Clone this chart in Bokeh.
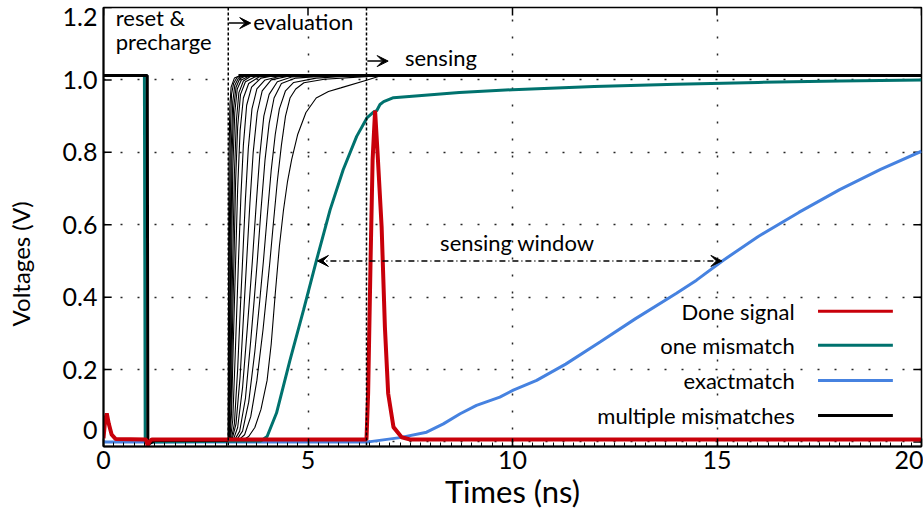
from bokeh.plotting import figure
from bokeh.models import Span, Label, Arrow, VeeHead, FixedTicker
from bokeh.embed import file_html
from bokeh.resources import INLINE

FONT = "Lato"

# ---------------- data ----------------
x_ticks = [0, 5, 10, 15, 20]
y_ticks = [0, 0.2, 0.4, 0.6, 0.8, 1.0, 1.2]
y_tick_labels = ["0", "0.2", "0.4", "0.6", "0.8", "1.0", "1.2"]

# Done signal (red)
done_t = [0, 0.04, 0.08, 0.13, 0.2, 0.3, 1.04, 1.08, 1.12, 1.18, 6.43, 6.47, 6.53, 6.58,
          6.64, 6.7, 6.8, 6.88, 6.96, 7.09, 7.29, 7.5, 20]
done_v = [0.01, 0.06, 0.079, 0.05, 0.02, 0.008, 0.007, -0.01, 0.0, 0.007, 0.007, 0.134, 0.503,
          0.78, 0.915, 0.8, 0.595, 0.318, 0.134, 0.041, 0.013, 0.007, 0.007]

# one mismatch (teal)
one_t = [0, 1.0, 1.02, 1.1, 3.85, 4.0, 4.23, 4.56, 4.89, 5.21, 5.54, 5.86, 6.19, 6.44, 6.6,
         6.68, 6.76, 6.85, 7.09, 8.7, 10, 12, 14, 16, 18, 20]
one_v = [1.012, 1.012, 0.0, 0.0, 0.003, 0.015, 0.08, 0.226, 0.364, 0.503, 0.641, 0.752, 0.844,
         0.895, 0.911, 0.915, 0.932, 0.94, 0.951, 0.965, 0.973, 0.982, 0.988, 0.993, 0.997, 1.0]

# exactmatch (blue)
exact_t = [0, 6.45, 6.52, 7.25, 7.9, 8.31, 8.72, 9.12, 9.69, 10.02, 10.59, 11.3, 12.14, 13.0,
           14.0, 14.5, 15.13, 16.0, 17.0, 18.0, 19.0, 20.0]
exact_v = [0.0, 0.0, 0.001, 0.012, 0.027, 0.05, 0.078, 0.101, 0.124, 0.143, 0.17, 0.215, 0.276,
           0.34, 0.41, 0.447, 0.5, 0.567, 0.634, 0.697, 0.753, 0.803]

# multiple mismatches (black): common reset part, family of rising curves, settled level
multi_pre_t = [0, 1.07, 1.085, 1.12, 1.25, 3.05]
multi_pre_v = [1.012, 1.012, -0.012, -0.005, 0.004, 0.004]
multi_top_t = [3.3, 20]
multi_top_v = [1.012, 1.012]
multi_t = [
    [3.05, 3.4, 3.55, 3.7, 3.85, 4.0, 4.1, 4.2, 4.3, 4.4, 4.5, 4.6, 4.75, 4.95, 5.2, 5.5, 5.8, 6.45, 6.8],
    [3.05, 3.3, 3.45, 3.6, 3.75, 3.9, 4.0, 4.07, 4.15, 4.25, 4.35, 4.45, 4.56, 4.7, 4.9, 5.4, 6.4, 6.8],
    [3.05, 3.25, 3.4, 3.55, 3.7, 3.82, 3.91, 4.0, 4.1, 4.2, 4.3, 4.45, 4.65, 5.2, 6.2],
    [3.05, 3.2, 3.33, 3.47, 3.6, 3.69, 3.76, 3.85, 3.95, 4.05, 4.17, 4.35, 4.7, 5.6],
    [3.05, 3.17, 3.28, 3.4, 3.52, 3.64, 3.73, 3.82, 3.92, 4.05, 4.25, 4.6, 5.2],
    [3.05, 3.14, 3.24, 3.34, 3.43, 3.5, 3.58, 3.66, 3.76, 3.88, 4.1, 4.6],
    [3.05, 3.12, 3.2, 3.28, 3.35, 3.4, 3.47, 3.54, 3.63, 3.75, 3.95, 4.4],
    [3.05, 3.1, 3.16, 3.22, 3.27, 3.3, 3.36, 3.42, 3.5, 3.62, 3.85, 4.2],
    [3.05, 3.09, 3.13, 3.18, 3.23, 3.28, 3.34, 3.42, 3.55, 3.8, 4.1],
    [3.05, 3.08, 3.12, 3.16, 3.19, 3.23, 3.28, 3.35, 3.47, 3.7, 4.0],
    [3.05, 3.07, 3.11, 3.14, 3.16, 3.2, 3.25, 3.31, 3.42, 3.6, 3.9],
    [3.05, 3.065, 3.1, 3.13, 3.16, 3.21, 3.27, 3.37, 3.55, 3.8],
    [3.05, 3.06, 3.09, 3.11, 3.14, 3.18, 3.24, 3.33, 3.5],
    [3.05, 3.055, 3.08, 3.095, 3.12, 3.16, 3.21, 3.3, 3.45],
    [3.05, 3.06, 3.07, 3.08, 3.1, 3.13, 3.18, 3.27, 3.4],
    [3.05, 3.055, 3.06, 3.07, 3.09, 3.12, 3.2, 3.35],
]
multi_v = [
    [0.004, 0.005, 0.015, 0.04, 0.09, 0.17, 0.27, 0.41, 0.54, 0.64, 0.72, 0.78, 0.85, 0.91, 0.95, 0.968, 0.978, 1.0, 1.012],
    [0.004, 0.005, 0.02, 0.07, 0.17, 0.31, 0.42, 0.5, 0.6, 0.72, 0.82, 0.9, 0.95, 0.975, 0.992, 1.002, 1.009, 1.012],
    [0.004, 0.005, 0.03, 0.11, 0.25, 0.39, 0.5, 0.62, 0.75, 0.85, 0.92, 0.97, 0.993, 1.005, 1.012],
    [0.004, 0.005, 0.03, 0.12, 0.28, 0.4, 0.5, 0.64, 0.78, 0.88, 0.95, 0.99, 1.005, 1.012],
    [0.004, 0.005, 0.04, 0.15, 0.32, 0.5, 0.65, 0.79, 0.9, 0.96, 0.995, 1.008, 1.012],
    [0.004, 0.005, 0.05, 0.18, 0.36, 0.5, 0.66, 0.8, 0.91, 0.97, 1.0, 1.012],
    [0.004, 0.005, 0.05, 0.2, 0.38, 0.5, 0.67, 0.81, 0.92, 0.975, 1.0, 1.012],
    [0.004, 0.005, 0.06, 0.24, 0.4, 0.5, 0.68, 0.82, 0.93, 0.98, 1.005, 1.012],
    [0.004, 0.005, 0.08, 0.3, 0.5, 0.7, 0.86, 0.95, 0.99, 1.008, 1.012],
    [0.004, 0.005, 0.1, 0.35, 0.5, 0.72, 0.87, 0.96, 0.995, 1.008, 1.012],
    [0.004, 0.005, 0.15, 0.38, 0.5, 0.74, 0.89, 0.965, 0.997, 1.01, 1.012],
    [0.004, 0.005, 0.2, 0.5, 0.75, 0.91, 0.975, 1.0, 1.01, 1.012],
    [0.004, 0.005, 0.25, 0.5, 0.78, 0.92, 0.98, 1.003, 1.012],
    [0.004, 0.005, 0.3, 0.5, 0.8, 0.94, 0.985, 1.005, 1.012],
    [0.004, 0.2, 0.4, 0.6, 0.85, 0.96, 0.99, 1.008, 1.012],
    [0.004, 0.3, 0.5, 0.8, 0.93, 0.98, 1.005, 1.012],
]

legend_labels = ["Done signal", "one mismatch", "exactmatch", "multiple mismatches"]
legend_colors = ["#c8000a", "#00726e", "#4682e0", "#000000"]

# ---------------- figure ----------------
p = figure(width=923, height=518, x_range=(0, 20), y_range=(-0.0125, 1.2),
           output_backend="svg", toolbar_location=None,
           min_border_left=103, min_border_right=2, min_border_top=7, min_border_bottom=72)
p.background_fill_color = "white"
p.border_fill_color = "white"
p.outline_line_color = "black"
p.outline_line_width = 1.5

TICK_FS = "25px"

# y tick labels: the two end labels sit slightly inside the frame, as in the reference
y_label_pos = [0.032, 0.2, 0.4, 0.6, 0.8, 1.0, 1.173]

p.xaxis.ticker = FixedTicker(ticks=x_ticks, minor_ticks=[i * 0.25 for i in range(81)])
p.yaxis.ticker = FixedTicker(ticks=y_label_pos)
p.yaxis.major_label_overrides = {t: s for t, s in zip(y_label_pos, y_tick_labels)}
for ax in (p.xaxis[0], p.yaxis[0]):
    ax.axis_line_width = 2
    ax.axis_line_color = "black"
    ax.major_tick_in = 8
    ax.major_tick_out = 0
    ax.major_tick_line_width = 1.5
    ax.minor_tick_in = 4
    ax.minor_tick_out = 0
    ax.major_label_text_font = FONT
    ax.major_label_text_font_size = TICK_FS
    ax.major_label_text_color = "black"
    ax.axis_label_text_font = FONT
    ax.axis_label_text_font_style = "normal"
    ax.axis_label_text_color = "black"
p.yaxis.minor_tick_line_color = None
p.yaxis.major_tick_line_color = None
p.xaxis.axis_label = "Times (ns)"
p.xaxis.axis_label_text_font_size = "31px"
p.xaxis.major_label_standoff = 4
p.xaxis.axis_label_standoff = 0
p.yaxis.axis_label = "Voltages (V)" + "\u00a0" * 12
p.yaxis.axis_label_text_font_size = "24px"
p.yaxis.major_label_standoff = 6
p.yaxis.axis_label_standoff = 25

# tick marks on left (at the true values), top and right edges
p.segment(x0=[0] * len(y_ticks), x1=[0.2] * len(y_ticks), y0=y_ticks, y1=y_ticks,
          line_color="black", line_width=1.5)
p.segment(x0=x_ticks, x1=x_ticks, y0=[1.2] * len(x_ticks), y1=[1.178] * len(x_ticks),
          line_color="black", line_width=1.5)
p.segment(x0=[20] * len(y_ticks), x1=[19.8] * len(y_ticks), y0=y_ticks, y1=y_ticks,
          line_color="black", line_width=1.5)

# grid
for g in (p.xgrid[0], p.ygrid[0]):
    g.grid_line_color = "black"
    g.grid_line_dash = "2 15"
    g.grid_line_width = 1.5
    g.grid_line_alpha = 0.85
p.ygrid.ticker = FixedTicker(ticks=y_ticks)
p.xgrid.ticker = FixedTicker(ticks=x_ticks)

# phase separators
for loc in (3.05, 6.43):
    p.add_layout(Span(location=loc, dimension="height", line_color="black",
                      line_dash="3 2", line_width=1.5))

# curves
p.line(exact_t, exact_v, line_color=legend_colors[2], line_width=3)
p.line(one_t, one_v, line_color=legend_colors[1], line_width=3)
p.line(multi_pre_t, multi_pre_v, line_color="black", line_width=3)
p.multi_line(multi_t, multi_v, line_color="black", line_width=1.1)
p.line(multi_top_t, multi_top_v, line_color="black", line_width=3)
p.line(done_t, done_v, line_color=legend_colors[0], line_width=4)

# legend (text left of the sample line)
legend_y = [0.361, 0.267, 0.170, 0.073]
for lab, col, yy in zip(legend_labels, legend_colors, legend_y):
    p.add_layout(Label(x=16.9, y=yy, text=lab, text_align="right", text_baseline="middle",
                       text_font=FONT, text_font_size="22px", text_color="black"))
    p.add_layout(Arrow(end=None, x_start=17.47, x_end=19.3, y_start=yy, y_end=yy,
                       line_color=col, line_width=3))

# annotations
def txt(x, y, s):
    p.add_layout(Label(x=x, y=y, text=s, text_align="left", text_baseline="middle",
                       text_font=FONT, text_font_size="22px", text_color="black"))

txt(0.3, 1.172, "reset &")
txt(0.3, 1.106, "precharge")
txt(3.66, 1.16, "evaluation")
txt(7.37, 1.062, "sensing")
txt(8.23, 0.55, "sensing window")

head = dict(size=11, fill_color="black", line_color="black", line_width=1)
p.add_layout(Arrow(end=VeeHead(**head), x_start=3.07, x_end=3.6, y_start=1.157, y_end=1.157,
                   line_color="black", line_width=1.5))
p.add_layout(Arrow(end=VeeHead(**head), x_start=6.45, x_end=6.96, y_start=1.052, y_end=1.052,
                   line_color="black", line_width=1.5))
p.add_layout(Arrow(start=VeeHead(**head), end=VeeHead(**head), x_start=5.23, x_end=15.12,
                   y_start=0.5, y_end=0.5, line_color="black", line_width=1.5,
                   line_dash="6 3 1 3"))

open("out.html", "w").write(file_html(p, INLINE))
